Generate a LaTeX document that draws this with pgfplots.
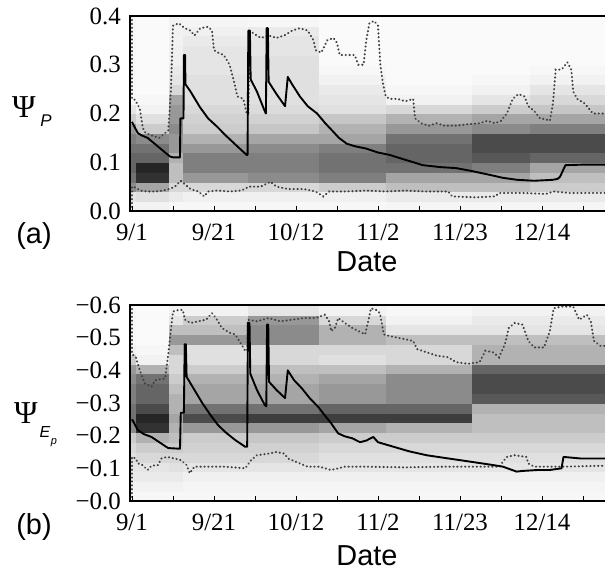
\documentclass[border=0pt]{standalone}
\usepackage{fontspec}
\setmainfont{Liberation Serif}
\newfontfamily\sans{Liberation Sans}
\usepackage{pgfplots}
\pgfplotsset{compat=1.18}
\begin{document}
\begin{tikzpicture}
\useasboundingbox (0,0) rectangle (605bp,-576bp);
\pgfplotsset{
  panel/.style={
    scale only axis, width=482.3bp, xmin=-0.5, xmax=123, axis on top,
    axis line style={line width=1.5pt},
    xtick={0,21,42,63,84,105}, xticklabels={9/1,9/21,10/12,11/2,11/23,12/14},
    minor xtick={10.5,31.5,52.5,73.5,94.5,115.5},
    tick align=inside, xtick pos=bottom, ytick pos=left,
    major tick length=5bp, minor tick length=5bp,
    xtick style={line width=0.8pt,black}, ytick style={draw=none},
    ticklabel style={font=\fontsize{25}{25}\selectfont, inner sep=0pt},
    xticklabel style={yshift=-13bp},
    yticklabel style={xshift=-9bp},
    colormap={bw}{gray(0cm)=(1); gray(1cm)=(0)},
    point meta min=0, point meta max=1,
  },
  hm/.style={surf, shader=flat corner, draw=none, point meta=explicit, mesh/ordering=y varies},
  med/.style={line width=1.9pt, black, line join=round},
  bnd/.style={line width=2.1pt, black!75, dash pattern=on 0.3pt off 3.6pt, line cap=round},
}
% ---------------- panel (a) ----------------
\begin{axis}[panel, at={(130bp,-16bp)}, anchor=north west, height=195bp,
  ymin=0, ymax=0.4, ytick={0,0.1,0.2,0.3,0.4}, yticklabels={0.0,0.1,0.2,0.3,0.4}]
\addplot[hm, mesh/rows=21, mesh/cols=10] table[row sep=\\, meta=c] {
x y c\\
-0.5 0 0.05\\ -0.5 0.02 0.1\\ -0.5 0.04 0.45\\ -0.5 0.06 0.55\\ -0.5 0.08 0.6\\ -0.5 0.1 0.6\\ -0.5 0.12 0.55\\ -0.5 0.14 0.5\\ -0.5 0.16 0.4\\ -0.5 0.18 0.2\\ -0.5 0.2 0.1\\ -0.5 0.22 0.03\\ -0.5 0.24 0.03\\ -0.5 0.26 0.03\\ -0.5 0.28 0.03\\ -0.5 0.3 0.03\\ -0.5 0.32 0.03\\ -0.5 0.34 0.03\\ -0.5 0.36 0.03\\ -0.5 0.38 0.03\\ -0.5 0.4 0.03\\
1 0 0.05\\ 1 0.02 0.12\\ 1 0.04 0.35\\ 1 0.06 0.8\\ 1 0.08 0.85\\ 1 0.1 0.6\\ 1 0.12 0.55\\ 1 0.14 0.45\\ 1 0.16 0.2\\ 1 0.18 0.12\\ 1 0.2 0.05\\ 1 0.22 0.03\\ 1 0.24 0.02\\ 1 0.26 0.02\\ 1 0.28 0.02\\ 1 0.3 0.02\\ 1 0.32 0.02\\ 1 0.34 0.02\\ 1 0.36 0.02\\ 1 0.38 0.02\\ 1 0.4 0.02\\
9.5 0 0.03\\ 9.5 0.02 0.08\\ 9.5 0.04 0.15\\ 9.5 0.06 0.25\\ 9.5 0.08 0.25\\ 9.5 0.1 0.3\\ 9.5 0.12 0.4\\ 9.5 0.14 0.4\\ 9.5 0.16 0.45\\ 9.5 0.18 0.4\\ 9.5 0.2 0.4\\ 9.5 0.22 0.35\\ 9.5 0.24 0.15\\ 9.5 0.26 0.1\\ 9.5 0.28 0.08\\ 9.5 0.3 0.06\\ 9.5 0.32 0.06\\ 9.5 0.34 0.05\\ 9.5 0.36 0.05\\ 9.5 0.38 0.05\\ 9.5 0.4 0.05\\
13 0 0.03\\ 13 0.02 0.06\\ 13 0.04 0.15\\ 13 0.06 0.4\\ 13 0.08 0.5\\ 13 0.1 0.5\\ 13 0.12 0.4\\ 13 0.14 0.3\\ 13 0.16 0.2\\ 13 0.18 0.18\\ 13 0.2 0.15\\ 13 0.22 0.12\\ 13 0.24 0.12\\ 13 0.26 0.12\\ 13 0.28 0.1\\ 13 0.3 0.1\\ 13 0.32 0.1\\ 13 0.34 0.08\\ 13 0.36 0.06\\ 13 0.38 0.04\\ 13 0.4 0.04\\
29.7 0 0.03\\ 29.7 0.02 0.06\\ 29.7 0.04 0.15\\ 29.7 0.06 0.45\\ 29.7 0.08 0.5\\ 29.7 0.1 0.5\\ 29.7 0.12 0.45\\ 29.7 0.14 0.35\\ 29.7 0.16 0.22\\ 29.7 0.18 0.18\\ 29.7 0.2 0.14\\ 29.7 0.22 0.12\\ 29.7 0.24 0.12\\ 29.7 0.26 0.12\\ 29.7 0.28 0.12\\ 29.7 0.3 0.12\\ 29.7 0.32 0.1\\ 29.7 0.34 0.1\\ 29.7 0.36 0.08\\ 29.7 0.38 0.03\\ 29.7 0.4 0.03\\
48 0 0.03\\ 48 0.02 0.06\\ 48 0.04 0.2\\ 48 0.06 0.5\\ 48 0.08 0.55\\ 48 0.1 0.55\\ 48 0.12 0.5\\ 48 0.14 0.35\\ 48 0.16 0.3\\ 48 0.18 0.22\\ 48 0.2 0.12\\ 48 0.22 0.1\\ 48 0.24 0.08\\ 48 0.26 0.05\\ 48 0.28 0.03\\ 48 0.3 0.02\\ 48 0.32 0.02\\ 48 0.34 0.02\\ 48 0.36 0.02\\ 48 0.38 0.02\\ 48 0.4 0.02\\
65 0 0.04\\ 65 0.02 0.08\\ 65 0.04 0.25\\ 65 0.06 0.35\\ 65 0.08 0.55\\ 65 0.1 0.6\\ 65 0.12 0.6\\ 65 0.14 0.55\\ 65 0.16 0.4\\ 65 0.18 0.3\\ 65 0.2 0.15\\ 65 0.22 0.05\\ 65 0.24 0.03\\ 65 0.26 0.02\\ 65 0.28 0.02\\ 65 0.3 0.02\\ 65 0.32 0.02\\ 65 0.34 0.02\\ 65 0.36 0.02\\ 65 0.38 0.02\\ 65 0.4 0.02\\
87 0 0.04\\ 87 0.02 0.08\\ 87 0.04 0.25\\ 87 0.06 0.35\\ 87 0.08 0.5\\ 87 0.1 0.65\\ 87 0.12 0.7\\ 87 0.14 0.7\\ 87 0.16 0.45\\ 87 0.18 0.35\\ 87 0.2 0.2\\ 87 0.22 0.1\\ 87 0.24 0.05\\ 87 0.26 0.03\\ 87 0.28 0.02\\ 87 0.3 0.02\\ 87 0.32 0.02\\ 87 0.34 0.02\\ 87 0.36 0.02\\ 87 0.38 0.02\\ 87 0.4 0.02\\
102 0 0.04\\ 102 0.02 0.08\\ 102 0.04 0.2\\ 102 0.06 0.25\\ 102 0.08 0.35\\ 102 0.1 0.6\\ 102 0.12 0.7\\ 102 0.14 0.7\\ 102 0.16 0.5\\ 102 0.18 0.35\\ 102 0.2 0.22\\ 102 0.22 0.15\\ 102 0.24 0.1\\ 102 0.26 0.05\\ 102 0.28 0.03\\ 102 0.3 0.02\\ 102 0.32 0.02\\ 102 0.34 0.02\\ 102 0.36 0.02\\ 102 0.38 0.02\\ 102 0.4 0.02\\
123 0 0.04\\ 123 0.02 0.08\\ 123 0.04 0.2\\ 123 0.06 0.25\\ 123 0.08 0.35\\ 123 0.1 0.6\\ 123 0.12 0.7\\ 123 0.14 0.7\\ 123 0.16 0.5\\ 123 0.18 0.35\\ 123 0.2 0.22\\ 123 0.22 0.15\\ 123 0.24 0.1\\ 123 0.26 0.05\\ 123 0.28 0.03\\ 123 0.3 0.02\\ 123 0.32 0.02\\ 123 0.34 0.02\\ 123 0.36 0.02\\ 123 0.38 0.02\\ 123 0.4 0.02\\
};
% upper bound
\addplot[bnd] coordinates {(0,0.4)(0,0.23)(0.8,0.228)(2,0.21)(2.8,0.17)(3.5,0.16)(5,0.155)(7,0.15)(8.5,0.16)(9.3,0.165)(10,0.25)(10.5,0.38)(12,0.385)(13.5,0.375)(15,0.37)(16,0.36)(17.5,0.375)(19.5,0.378)(20.5,0.37)(21,0.33)(22,0.325)(23.5,0.32)(25,0.30)(26,0.27)(27,0.235)(28.5,0.23)(29.4,0.2)(29.8,0.2)(30.2,0.37)(31,0.365)(33,0.355)(35,0.36)(37,0.355)(39,0.36)(41,0.37)(43,0.375)(45,0.37)(46.5,0.35)(47,0.33)(48.5,0.325)(50,0.35)(51.6,0.355)(52.5,0.345)(53.2,0.32)(55,0.32)(57,0.32)(58,0.30)(59.3,0.30)(60,0.35)(60.8,0.385)(62,0.39)(63,0.38)(63.6,0.3)(64.3,0.26)(65,0.235)(66,0.23)(68,0.23)(70,0.225)(72,0.23)(72.5,0.19)(74,0.18)(76,0.175)(78,0.18)(80,0.175)(83,0.175)(86,0.178)(89,0.18)(91,0.185)(93,0.18)(94.5,0.185)(96,0.2)(97.5,0.23)(99,0.24)(100.5,0.235)(101.5,0.215)(103,0.205)(104.5,0.19)(106,0.188)(107,0.185)(107.8,0.22)(108.5,0.29)(110,0.29)(111.5,0.305)(112.5,0.29)(113,0.245)(114,0.23)(116,0.22)(117,0.21)(118,0.2)(121,0.2)(123,0.2)};
% lower bound
\addplot[bnd] coordinates {(0,0.0)(0,0.05)(1,0.048)(2,0.042)(4,0.04)(6,0.04)(8,0.042)(9.5,0.045)(11,0.05)(12.5,0.062)(13.5,0.055)(15,0.045)(17,0.04)(18.5,0.03)(19.5,0.04)(22,0.042)(25,0.04)(28,0.042)(30,0.05)(33,0.05)(35.5,0.06)(37,0.05)(40,0.045)(44,0.045)(47,0.04)(49,0.03)(50.5,0.04)(55,0.04)(60,0.042)(65,0.04)(70,0.042)(75,0.04)(81,0.04)(82,0.03)(88,0.028)(93,0.03)(94,0.037)(100,0.037)(106,0.035)(108,0.04)(112,0.037)(121,0.037)(123,0.037)};
% median
\addplot[med] coordinates {(0,0.183)(0.5,0.175)(1.5,0.16)(2.5,0.155)(4,0.15)(5.5,0.14)(7,0.13)(8.5,0.12)(9.7,0.112)(10.5,0.11)(12.3,0.11)(12.4,0.19)(13.2,0.19)(13.3,0.32)(13.6,0.32)(13.7,0.26)(15,0.245)(17.4,0.213)(19.5,0.19)(21.8,0.173)(24,0.155)(26,0.14)(28,0.125)(29.4,0.115)(29.6,0.115)(29.8,0.37)(30.2,0.37)(30.4,0.27)(32,0.245)(34,0.205)(34.3,0.2)(34.5,0.375)(34.8,0.375)(35,0.265)(37,0.24)(39.2,0.215)(39.9,0.275)(41,0.26)(43,0.235)(45,0.215)(47.4,0.2)(49.5,0.18)(51.5,0.163)(53,0.15)(55,0.138)(57,0.133)(60,0.128)(63,0.12)(66,0.115)(70,0.105)(74.5,0.094)(79,0.09)(83,0.088)(87,0.082)(91.7,0.074)(95,0.068)(98.6,0.064)(103,0.062)(107.8,0.064)(109,0.066)(109.6,0.07)(111,0.094)(115,0.095)(121,0.095)(123,0.095)};
\end{axis}
% ---------------- panel (b) ----------------
\begin{axis}[panel, at={(130bp,-305bp)}, anchor=north west, height=196bp,
  ymin=0, ymax=0.6, ytick={0,0.1,0.2,0.3,0.4,0.5,0.6},
  yticklabels={−0.0,−0.1,−0.2,−0.3,−0.4,−0.5,−0.6}]
\addplot[hm, mesh/rows=21, mesh/cols=9] table[row sep=\\, meta=c] {
x y c\\
-0.5 0 0.03\\ -0.5 0.03 0.05\\ -0.5 0.06 0.08\\ -0.5 0.09 0.1\\ -0.5 0.12 0.12\\ -0.5 0.15 0.15\\ -0.5 0.18 0.2\\ -0.5 0.21 0.45\\ -0.5 0.24 0.55\\ -0.5 0.27 0.55\\ -0.5 0.3 0.5\\ -0.5 0.33 0.5\\ -0.5 0.36 0.45\\ -0.5 0.39 0.4\\ -0.5 0.42 0.2\\ -0.5 0.45 0.05\\ -0.5 0.48 0.03\\ -0.5 0.51 0.03\\ -0.5 0.54 0.03\\ -0.5 0.57 0.03\\ -0.5 0.6 0.03\\
1 0 0.03\\ 1 0.03 0.05\\ 1 0.06 0.08\\ 1 0.09 0.1\\ 1 0.12 0.15\\ 1 0.15 0.2\\ 1 0.18 0.3\\ 1 0.21 0.8\\ 1 0.24 0.85\\ 1 0.27 0.7\\ 1 0.3 0.6\\ 1 0.33 0.6\\ 1 0.36 0.55\\ 1 0.39 0.3\\ 1 0.42 0.05\\ 1 0.45 0.03\\ 1 0.48 0.02\\ 1 0.51 0.02\\ 1 0.54 0.02\\ 1 0.57 0.02\\ 1 0.6 0.02\\
9.5 0 0.03\\ 9.5 0.03 0.05\\ 9.5 0.06 0.08\\ 9.5 0.09 0.12\\ 9.5 0.12 0.15\\ 9.5 0.15 0.2\\ 9.5 0.18 0.25\\ 9.5 0.21 0.3\\ 9.5 0.24 0.35\\ 9.5 0.27 0.3\\ 9.5 0.3 0.3\\ 9.5 0.33 0.25\\ 9.5 0.36 0.2\\ 9.5 0.39 0.15\\ 9.5 0.42 0.15\\ 9.5 0.45 0.25\\ 9.5 0.48 0.4\\ 9.5 0.51 0.25\\ 9.5 0.54 0.1\\ 9.5 0.57 0.05\\ 9.5 0.6 0.05\\
13 0 0.03\\ 13 0.03 0.04\\ 13 0.06 0.06\\ 13 0.09 0.1\\ 13 0.12 0.15\\ 13 0.15 0.18\\ 13 0.18 0.2\\ 13 0.21 0.4\\ 13 0.24 0.7\\ 13 0.27 0.55\\ 13 0.3 0.35\\ 13 0.33 0.35\\ 13 0.36 0.3\\ 13 0.39 0.2\\ 13 0.42 0.12\\ 13 0.45 0.12\\ 13 0.48 0.4\\ 13 0.51 0.25\\ 13 0.54 0.2\\ 13 0.57 0.05\\ 13 0.6 0.05\\
29.7 0 0.03\\ 29.7 0.03 0.04\\ 29.7 0.06 0.06\\ 29.7 0.09 0.1\\ 29.7 0.12 0.15\\ 29.7 0.15 0.18\\ 29.7 0.18 0.22\\ 29.7 0.21 0.4\\ 29.7 0.24 0.75\\ 29.7 0.27 0.55\\ 29.7 0.3 0.35\\ 29.7 0.33 0.35\\ 29.7 0.36 0.3\\ 29.7 0.39 0.25\\ 29.7 0.42 0.15\\ 29.7 0.45 0.15\\ 29.7 0.48 0.45\\ 29.7 0.51 0.45\\ 29.7 0.54 0.4\\ 29.7 0.57 0.1\\ 29.7 0.6 0.1\\
48 0 0.03\\ 48 0.03 0.04\\ 48 0.06 0.06\\ 48 0.09 0.1\\ 48 0.12 0.12\\ 48 0.15 0.15\\ 48 0.18 0.2\\ 48 0.21 0.35\\ 48 0.24 0.75\\ 48 0.27 0.6\\ 48 0.3 0.4\\ 48 0.33 0.4\\ 48 0.36 0.35\\ 48 0.39 0.25\\ 48 0.42 0.12\\ 48 0.45 0.15\\ 48 0.48 0.3\\ 48 0.51 0.3\\ 48 0.54 0.15\\ 48 0.57 0.05\\ 48 0.6 0.05\\
65 0 0.03\\ 65 0.03 0.04\\ 65 0.06 0.06\\ 65 0.09 0.1\\ 65 0.12 0.12\\ 65 0.15 0.15\\ 65 0.18 0.2\\ 65 0.21 0.3\\ 65 0.24 0.75\\ 65 0.27 0.6\\ 65 0.3 0.45\\ 65 0.33 0.45\\ 65 0.36 0.45\\ 65 0.39 0.3\\ 65 0.42 0.15\\ 65 0.45 0.15\\ 65 0.48 0.25\\ 65 0.51 0.1\\ 65 0.54 0.05\\ 65 0.57 0.03\\ 65 0.6 0.03\\
87 0 0.03\\ 87 0.03 0.04\\ 87 0.06 0.06\\ 87 0.09 0.1\\ 87 0.12 0.12\\ 87 0.15 0.15\\ 87 0.18 0.2\\ 87 0.21 0.25\\ 87 0.24 0.25\\ 87 0.27 0.3\\ 87 0.3 0.65\\ 87 0.33 0.7\\ 87 0.36 0.7\\ 87 0.39 0.6\\ 87 0.42 0.3\\ 87 0.45 0.3\\ 87 0.48 0.25\\ 87 0.51 0.1\\ 87 0.54 0.08\\ 87 0.57 0.05\\ 87 0.6 0.05\\
123 0 0.03\\ 123 0.03 0.04\\ 123 0.06 0.06\\ 123 0.09 0.1\\ 123 0.12 0.12\\ 123 0.15 0.15\\ 123 0.18 0.2\\ 123 0.21 0.25\\ 123 0.24 0.25\\ 123 0.27 0.3\\ 123 0.3 0.65\\ 123 0.33 0.7\\ 123 0.36 0.7\\ 123 0.39 0.6\\ 123 0.42 0.3\\ 123 0.45 0.3\\ 123 0.48 0.25\\ 123 0.51 0.1\\ 123 0.54 0.08\\ 123 0.57 0.05\\ 123 0.6 0.05\\
};
\addplot[bnd] coordinates {(0,0.6)(0,0.45)(1,0.44)(2,0.4)(3.3,0.36)(5,0.35)(6,0.37)(8.5,0.375)(9.3,0.45)(10.5,0.58)(12,0.585)(13,0.585)(13.6,0.555)(15,0.545)(17,0.55)(19,0.555)(20.5,0.575)(21.5,0.56)(23,0.53)(25,0.515)(26.4,0.51)(28,0.48)(29,0.46)(29.5,0.46)(29.7,0.555)(32,0.55)(35,0.56)(38,0.55)(41,0.555)(44,0.56)(47,0.56)(49.4,0.57)(50.5,0.55)(51,0.52)(52,0.53)(52.8,0.56)(54.5,0.545)(56.4,0.53)(58,0.52)(59.7,0.51)(60.5,0.55)(61.2,0.59)(62.5,0.585)(63.5,0.575)(64.5,0.51)(66,0.505)(68,0.5)(70,0.495)(72,0.49)(73,0.465)(75.5,0.455)(78,0.445)(81,0.44)(83,0.425)(86,0.42)(89,0.425)(90.5,0.46)(92.5,0.455)(94,0.44)(95.5,0.48)(96.5,0.53)(98,0.545)(100,0.54)(101.5,0.49)(103,0.47)(105.5,0.47)(107,0.52)(108,0.59)(110,0.595)(113,0.595)(114.5,0.555)(116.5,0.57)(117.5,0.55)(118.3,0.49)(120,0.475)(123,0.475)};
\addplot[bnd] coordinates {(0,0.0)(0,0.135)(1,0.13)(1.5,0.115)(2.5,0.112)(4,0.095)(5,0.108)(6.7,0.11)(7.5,0.13)(9,0.135)(11,0.13)(12.5,0.125)(14,0.11)(14.8,0.085)(16,0.105)(20,0.105)(24,0.105)(27,0.102)(29,0.1)(30.5,0.125)(32,0.14)(35,0.145)(37,0.15)(39,0.145)(40,0.13)(42,0.12)(45,0.105)(48,0.105)(51,0.095)(52.8,0.1)(54.5,0.105)(60,0.105)(70,0.103)(80,0.105)(90,0.105)(94,0.105)(96,0.135)(98,0.14)(101,0.135)(101.5,0.115)(103,0.105)(110,0.105)(121,0.108)(123,0.108)};
\addplot[med] coordinates {(0,0.25)(0.5,0.24)(1.5,0.217)(3,0.205)(5,0.196)(7,0.18)(8.5,0.168)(9.3,0.162)(12.3,0.16)(12.5,0.27)(13.3,0.27)(13.5,0.48)(13.8,0.48)(14,0.38)(16,0.34)(18,0.30)(20,0.265)(22,0.233)(24,0.21)(26.4,0.187)(29,0.166)(29.5,0.166)(29.7,0.545)(30.1,0.545)(30.3,0.39)(32,0.34)(34,0.294)(34.4,0.29)(34.6,0.54)(34.9,0.54)(35.1,0.365)(37,0.34)(39.2,0.315)(39.9,0.40)(41.5,0.37)(43.5,0.345)(45.5,0.315)(47.7,0.288)(49.5,0.26)(51,0.238)(52.8,0.207)(54.5,0.198)(56.4,0.192)(58.4,0.18)(60,0.185)(61.8,0.196)(63,0.18)(67,0.166)(71,0.152)(75.5,0.14)(80,0.132)(84,0.125)(88,0.118)(92.5,0.11)(95,0.105)(98.5,0.09)(100,0.092)(104,0.095)(107,0.095)(110,0.1)(110.5,0.135)(115,0.13)(121,0.13)(123,0.13)};
\end{axis}
% ---------------- labels ----------------
\node[font=\fontsize{32}{32}\selectfont] at (24bp,-107bp) {Ψ};
\node[font=\sans\itshape\fontsize{17}{17}\selectfont] at (46bp,-121bp) {P};
\node[font=\fontsize{32}{32}\selectfont] at (26bp,-413bp) {Ψ};
\node[font=\sans\itshape\fontsize{16}{16}\selectfont] at (45bp,-432bp) {E};
\node[font=\sans\itshape\fontsize{11}{11}\selectfont] at (54bp,-443bp) {p};
\node[font=\sans\fontsize{29}{29}\selectfont] at (34bp,-236bp) {(a)};
\node[font=\sans\fontsize{29}{29}\selectfont] at (34bp,-527bp) {(b)};
\node[font=\sans\fontsize{29}{29}\selectfont] at (367bp,-262bp) {Date};
\node[font=\sans\fontsize{29}{29}\selectfont] at (367bp,-556bp) {Date};
\end{tikzpicture}
\end{document}
